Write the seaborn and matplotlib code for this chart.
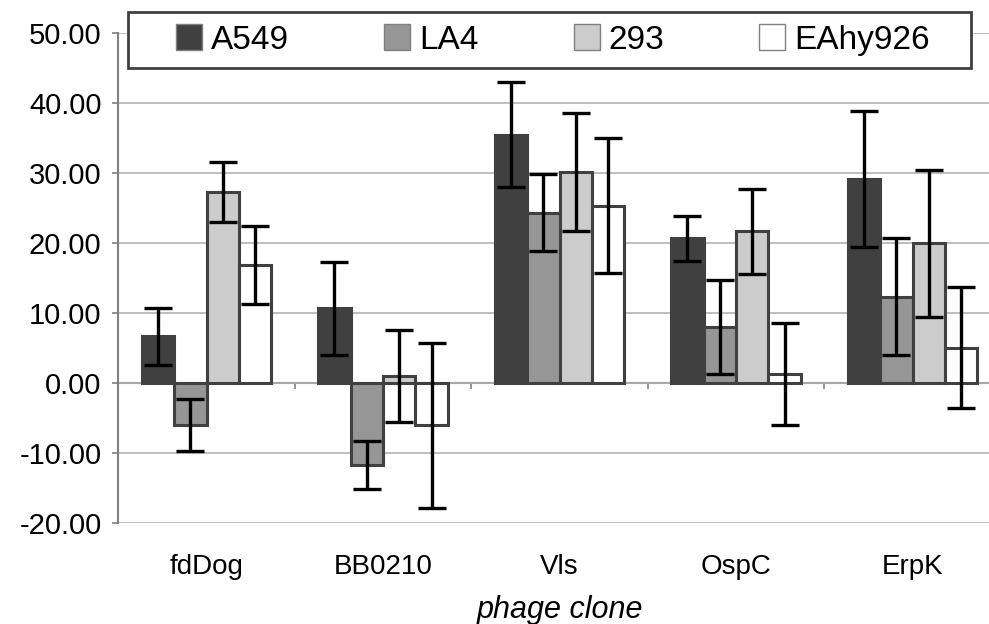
import pandas as pd
import seaborn as sns
import matplotlib.pyplot as plt
from matplotlib.patches import Rectangle
from matplotlib.ticker import FormatStrFormatter

clones = ["fdDog", "BB0210", "Vls", "OspC", "ErpK"]
cells = ["A549", "LA4", "293", "EAhy926"]

a549 = [6.7, 10.7, 35.5, 20.7, 29.2]
a549_err = [4.1, 6.7, 7.5, 3.2, 9.7]
la4 = [-6.0, -11.7, 24.4, 8.0, 12.4]
la4_err = [3.7, 3.4, 5.5, 6.7, 8.3]
c293 = [27.3, 1.0, 30.2, 21.7, 20.0]
c293_err = [4.3, 6.6, 8.4, 6.1, 10.5]
eahy = [16.9, -6.0, 25.4, 1.3, 5.1]
eahy_err = [5.6, 11.8, 9.6, 7.3, 8.6]

yticks = [-20, -10, 0, 10, 20, 30, 40, 50]

values = [a549, la4, c293, eahy]
errors = [a549_err, la4_err, c293_err, eahy_err]

rows = []
for cell, vals, errs in zip(cells, values, errors):
    for clone, v, e in zip(clones, vals, errs):
        rows.append({"clone": clone, "cell": cell, "value": v, "err": e})
df = pd.DataFrame(rows)

sns.set_style("white")
plt.rcParams['font.family'] = ['Liberation Sans', 'DejaVu Sans']
plt.rcParams['text.color'] = 'black'
plt.rcParams['axes.labelcolor'] = 'black'
plt.rcParams['xtick.labelcolor'] = 'black'
plt.rcParams['ytick.labelcolor'] = 'black'

fig = plt.figure(figsize=(9.89, 6.24), dpi=100)
ax = fig.add_axes([0.1196, 0.1614, 0.8923, 0.7852])

colors = ["#404040", "#969696", "#cccccc", "#ffffff"]
sns.barplot(data=df, x="clone", y="value", hue="cell", palette=colors,
            saturation=1, edgecolor="#404040", linewidth=2.2, width=0.735,
            errorbar=None, ax=ax)

# error bars on top of each bar
for cont, errs in zip(ax.containers, errors):
    for bar, e in zip(cont, errs):
        x = bar.get_x() + bar.get_width() / 2
        y = bar.get_y() + bar.get_height()
        ax.errorbar(x, y, yerr=e, fmt="none", ecolor="black",
                    elinewidth=2.4, capsize=10, capthick=2.4, zorder=4)

ax.set_xlim(-0.5, len(clones) - 0.5)
ax.set_ylim(-20, 50)
ax.set_yticks(yticks)
ax.yaxis.set_major_formatter(FormatStrFormatter('%.2f'))
ax.set_axisbelow(True)
ax.yaxis.grid(True, color="#b3b3b3", linewidth=1.2)
ax.xaxis.grid(False)

for s in ["top", "right", "bottom"]:
    ax.spines[s].set_visible(False)
ax.spines["left"].set_color("#808080")
ax.spines["left"].set_linewidth(1.5)

ax.tick_params(axis="y", length=4, width=1.2, color="#808080", pad=8,
               labelsize=21, left=True, labelcolor="black")
ax.tick_params(axis="x", length=0, pad=22, labelsize=20, labelcolor="black")
ax.set_ylabel("")
ax.set_xlabel("phage clone", fontsize=22, style="italic", labelpad=11,
              color="black")

# category axis crossing at zero
sec = ax.secondary_xaxis(0, transform=ax.transData)
sec.set_xticks([0.5, 1.5, 2.5, 3.5])
sec.tick_params(axis="x", length=4.5, width=1.2, color="#808080",
                labelbottom=False, direction="out")
sec.spines["bottom"].set_color("#808080")
sec.spines["bottom"].set_linewidth(1.5)

leg = ax.get_legend()
handles = leg.legend_handles
labels = [t.get_text() for t in leg.get_texts()]
leg.remove()

fig.add_artist(Rectangle((128 / 989, 1 - 68 / 624), (971 - 128) / 989, 56 / 624,
                         transform=fig.transFigure, facecolor="white",
                         edgecolor="#404040", linewidth=2, zorder=3))

fl = fig.legend(handles, labels, ncol=4, mode="expand", loc="center",
                bbox_to_anchor=(176 / 989, 1 - 68 / 624, (930 - 176) / 989, 56 / 624),
                frameon=False, fontsize=24, handlelength=0.78, handleheight=0.78,
                handletextpad=0.27, borderpad=0, borderaxespad=0)
fl.set_zorder(6)
for t in fl.get_texts():
    t.set_color("black")
for h in fl.legend_handles:
    h.set_linewidth(1)
    h.set_edgecolor("#808080")

fig.savefig("out.png", dpi=100)
